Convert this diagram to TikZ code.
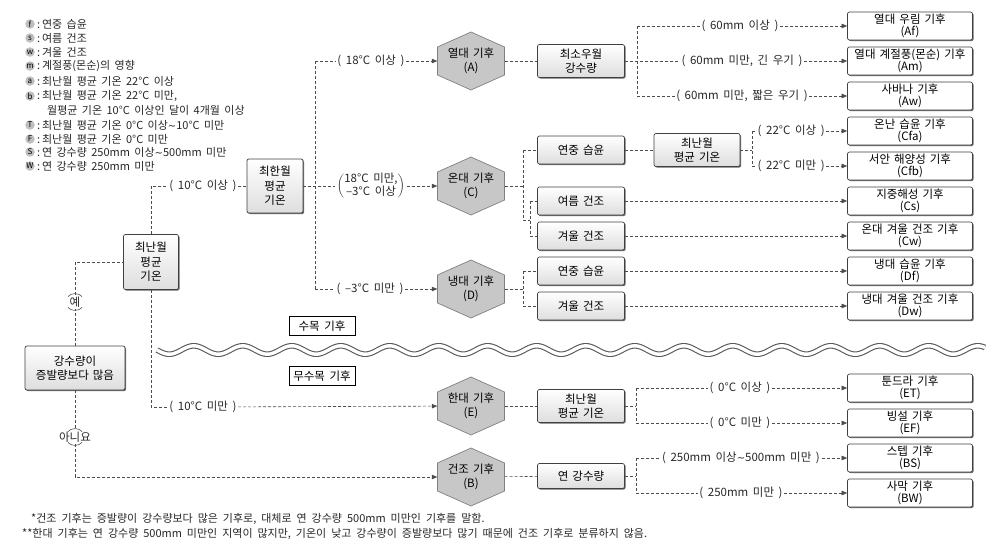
\documentclass[tikz,border=0pt]{standalone}
\usepackage{fontspec}
\setmainfont{Noto Sans CJK KR}
\newfontfamily\djv{DejaVu Sans}
\usetikzlibrary{arrows.meta,shadows,backgrounds,calc}
\newcommand{\myboxf}{\fontsize{11.5}{14.5}\selectfont\spaceskip=0.35em\relax}
\newcommand{\myresf}{\fontsize{11.5}{12.5}\selectfont\spaceskip=0.35em\relax}
\newcommand{\mylabf}{\fontsize{11.5}{13}\selectfont\spaceskip=0.4em\relax}
\newcommand{\mylegf}{\fontsize{11}{12}\selectfont\spaceskip=0.4em\relax}
\newcommand{\mybadgef}{\fontsize{8}{8}\selectfont}
\newcommand{\mynotef}{\fontsize{11}{12}\selectfont\spaceskip=0.45em\relax}
\newcommand{\tld}{{\djv\fontsize{10}{10}\selectfont ∼}}
\newcommand{\lgitem}[4]{\node[badge] (bd#1) at (30,#3) {#2}; \node[lg] (lt#1) at (37,#3) {:\,#4};}
\newcommand{\hexshape}[1]{\filldraw[hexfill] ([shift={(-33.5,-14)}]#1.center) -- ([shift={(0,-29)}]#1.center) -- ([shift={(33.5,-14)}]#1.center) -- ([shift={(33.5,14)}]#1.center) -- ([shift={(0,29)}]#1.center) -- ([shift={(-33.5,14)}]#1.center) -- cycle;}
\tikzset{
 dl/.style={draw=black!70, line width=0.6pt, dash pattern=on 3pt off 2pt},
 arr/.style={-{Triangle[length=5.5pt,width=4.5pt]}},
 myshadow/.style={drop shadow={shadow xshift=1.1pt, shadow yshift=-1.1pt, fill=black!60, opacity=1}},
 gbox/.style={draw=black!75, line width=0.7pt, rounded corners=2pt, top color=white, bottom color=black!13, myshadow, minimum width=87pt, align=center, inner sep=1pt, font=\myboxf},
 rbox/.style={draw=black!75, line width=0.7pt, rounded corners=2pt, fill=white, myshadow, minimum width=125pt, minimum height=28pt, align=center, inner sep=0pt, font=\myresf},
 hexn/.style={minimum width=67pt, minimum height=58pt, inner sep=0pt, align=center, font=\myboxf},
 hexfill/.style={fill=black!22, draw=black!50, line width=0.7pt},
 lab/.style={inner sep=1.5pt, font=\mylabf, text=black!85},
 badge/.style={circle, fill=black!25, inner sep=0pt, minimum size=9.5pt, font=\mybadgef},
 lg/.style={anchor=west, inner sep=0pt, font=\mylegf, text=black!85},
 tagbox/.style={draw=black, line width=0.8pt, fill=white, minimum width=66pt, minimum height=19pt, inner sep=0pt, font=\mylabf, drop shadow={shadow xshift=0.8pt, shadow yshift=-0.8pt, fill=black!70, opacity=1}},
 arcm/.style={draw=black!70, line width=0.6pt}
}
\begin{document}
\begin{tikzpicture}[x=1pt,y=-1pt]
\useasboundingbox (0,0) rectangle (1007,555);

% legend
\lgitem{f}{f}{24}{연중 습윤}
\lgitem{s}{s}{38}{여름 건조}
\lgitem{w}{w}{52}{겨울 건조}
\lgitem{m}{m}{66}{계절풍(몬순)의 영향}
\lgitem{a}{a}{81}{최난월 평균 기온 22°C 이상}
\lgitem{b}{b}{96}{최난월 평균 기온 22°C 미만,}
\node[lg] (ltb2) at (47,110) {월평균 기온 10°C 이상인 달이 4개월 이상};
\lgitem{T}{T}{125}{최난월 평균 기온 0°C 이상\tld 10°C 미만}
\lgitem{F}{F}{139}{최난월 평균 기온 0°C 미만}
\lgitem{S}{S}{152}{연 강수량 250mm 이상\tld 500mm 미만}
\lgitem{W}{W}{166}{연 강수량 250mm 미만}

% wave
\draw[black!65, line width=5.6pt] plot[domain=157:985, samples=500] (\x, {350+4.2*sin((\x-157)/49*360)});
\draw[white, line width=3.4pt] plot[domain=157:985, samples=500] (\x, {350+4.2*sin((\x-157)/49*360)});
\node[tagbox] (tree) at (322,326) {수목 기후};
\node[tagbox] (notree) at (322,376) {무수목 기후};

% left nodes
\node[gbox, minimum width=100pt, minimum height=44pt] (P) at (75,368) {강수량이\\증발량보다 많음};
\node[gbox, minimum width=55pt, minimum height=55pt] (L) at (151,262) {최난월\\평균\\기온};
\node[gbox, minimum width=56pt, minimum height=54pt] (H) at (275,186) {최한월\\평균\\기온};
\node[lab, inner sep=2pt] (yes) at (75,302) {예};
\node[lab, inner sep=2pt] (no) at (75,437) {아니요};
\draw[arcm] ($(yes.north)+(-7,2)$) .. controls ($(yes.north)+(-4,-2)$) and ($(yes.north)+(4,-2)$) .. ($(yes.north)+(7,2)$);
\draw[arcm] ($(yes.south)+(-7,-2)$) .. controls ($(yes.south)+(-4,2)$) and ($(yes.south)+(4,2)$) .. ($(yes.south)+(7,-2)$);
\draw[arcm] ($(no.north)+(-7,2)$) .. controls ($(no.north)+(-4,-2)$) and ($(no.north)+(4,-2)$) .. ($(no.north)+(7,2)$);
\draw[arcm] ($(no.south)+(-7,-2)$) .. controls ($(no.south)+(-4,2)$) and ($(no.south)+(4,2)$) .. ($(no.south)+(7,-2)$);
\node[lab] (l10a) at (203,186) {( 10°C 이상 )};
\node[lab] (l10b) at (203,407) {( 10°C 미만 )};

% hexagons
\node[hexn] (A) at (471,61) {열대 기후\\(A)};
\node[hexn] (C) at (471,186) {온대 기후\\(C)};
\node[hexn] (D) at (471,289) {냉대 기후\\(D)};
\node[hexn] (E) at (471,406) {한대 기후\\(E)};
\node[hexn] (B) at (471,477) {건조 기후\\(B)};
\begin{pgfonlayer}{background}
\hexshape{A}\hexshape{C}\hexshape{D}\hexshape{E}\hexshape{B}
\end{pgfonlayer}

\node[lab] (l18a) at (371,61) {( 18°C 이상 )};
\node[lab] (l18b) at (371,186) {$\left(\vcenter{\hbox{\def\arraystretch{0.9}\begin{tabular}{@{}c@{}}18°C 미만,\\–3°C 이상\end{tabular}}}\right)$};
\node[lab] (lm3) at (370,289) {( –3°C 미만 )};

% middle column
\node[gbox, minimum height=33pt] (M1) at (581,61) {최소우월\\강수량};
\node[gbox, minimum height=28pt] (Cf) at (581,150) {연중 습윤};
\node[gbox, minimum height=28pt] (Cs1) at (581,201) {여름 건조};
\node[gbox, minimum height=28pt] (Cw1) at (581,236) {겨울 건조};
\node[gbox, minimum height=28pt] (Df1) at (581,271) {연중 습윤};
\node[gbox, minimum height=28pt] (Dw1) at (581,306) {겨울 건조};
\node[gbox, minimum height=33pt] (ET1) at (581,406) {최난월\\평균 기온};
\node[gbox, minimum height=25pt] (BS1) at (581,476) {연 강수량};
\node[gbox, minimum width=86pt, minimum height=33pt] (CT) at (697,150) {최난월\\평균 기온};

% results
\node[rbox] (Af) at (910,26) {열대 우림 기후\\(Af)};
\node[rbox] (Am) at (910,61) {열대 계절풍(몬순) 기후\\(Am)};
\node[rbox] (Aw) at (910,96) {사바나 기후\\(Aw)};
\node[rbox] (Cfa) at (910,131) {온난 습윤 기후\\(Cfa)};
\node[rbox] (Cfb) at (910,166) {서안 해양성 기후\\(Cfb)};
\node[rbox] (Cs) at (910,201) {지중해성 기후\\(Cs)};
\node[rbox] (Cw) at (910,236) {온대 겨울 건조 기후\\(Cw)};
\node[rbox] (Df) at (910,271) {냉대 습윤 기후\\(Df)};
\node[rbox] (Dw) at (910,306) {냉대 겨울 건조 기후\\(Dw)};
\node[rbox] (ET) at (910,388) {툰드라 기후\\(ET)};
\node[rbox] (EF) at (910,423) {빙설 기후\\(EF)};
\node[rbox] (BS) at (910,458) {스텝 기후\\(BS)};
\node[rbox] (BW) at (910,493) {사막 기후\\(BW)};

% labels right
\node[lab] (lAf) at (740,26) {( 60mm 이상 )};
\node[lab] (lAm) at (742,61) {( 60mm 미만, 긴 우기 )};
\node[lab] (lAw) at (742,96) {( 60mm 미만, 짧은 우기 )};
\node[lab, anchor=west] (lCfa) at (756,131) {( 22°C 이상 )};
\node[lab, anchor=west] (lCfb) at (756,166) {( 22°C 미만 )};
\node[lab] (lET) at (740,388) {( 0°C 이상 )};
\node[lab] (lEF) at (740,423) {( 0°C 미만 )};
\node[lab] (lBS) at (741,458) {( 250mm 이상\tld 500mm 미만 )};
\node[lab] (lBW) at (741,493) {( 250mm 미만 )};

% connectors left
\draw[dl] (P) -- (yes);
\draw[dl] (yes) |- (L);
\draw[dl] (P) -- (no);
\draw[dl,arr] (no) |- (B);
\draw[dl] (L) |- (l10a);
\draw[dl] (l10a) -- (H);
\draw[dl] (L) |- (l10b);
\draw[dl,arr] (l10b) -- (E);

% trunk after H
\coordinate (k1) at (315,61);
\coordinate (k3) at (315,289);
\draw[dl] (k1) -- (k3);
\draw[dl] (k1) -- (l18a);
\draw[dl,arr] (l18a) -- (A);
\draw[dl] (H) -- (l18b);
\draw[dl,arr] (l18b) -- (C);
\draw[dl] (k3) -- (lm3);
\draw[dl,arr] (lm3) -- (D);

% A branch
\draw[dl] (A) -- (M1);
\coordinate (ka1) at (637,26);
\coordinate (ka3) at (637,96);
\draw[dl] (ka1) -- (ka3);
\draw[dl] (ka1) -- (lAf);
\draw[dl,arr] (lAf) -- (Af);
\draw[dl] (M1) -- (lAm);
\draw[dl,arr] (lAm) -- (Am);
\draw[dl] (ka3) -- (lAw);
\draw[dl,arr] (lAw) -- (Aw);

% C branch
\coordinate (c0) at (523,186);
\coordinate (c1) at (523,150);
\coordinate (c2) at (523,220);
\coordinate (c3) at (530,201);
\coordinate (c4) at (530,236);
\draw[dl] (C) -- (c0);
\draw[dl] (c1) -- (c2) -- (c2 -| c3);
\draw[dl] (c3) -- (c4);
\draw[dl] (c1) -- (Cf);
\draw[dl] (c3) -- (Cs1);
\draw[dl] (c4) -- (Cw1);
\draw[dl] (Cf) -- (CT);
\coordinate (ct0) at (752,150);
\coordinate (ct1) at (752,131);
\coordinate (ct2) at (752,166);
\draw[dl] (CT) -- (ct0);
\draw[dl] (ct1) -- (ct2);
\draw[dl] (ct1) -- (lCfa);
\draw[dl,arr] (lCfa) -- (Cfa);
\draw[dl] (ct2) -- (lCfb);
\draw[dl,arr] (lCfb) -- (Cfb);
\draw[dl,arr] (Cs1) -- (Cs);
\draw[dl,arr] (Cw1) -- (Cw);

% D branch
\coordinate (d0) at (523,289);
\coordinate (d1) at (523,271);
\coordinate (d2) at (523,306);
\draw[dl] (D) -- (d0);
\draw[dl] (d1) -- (d2);
\draw[dl] (d1) -- (Df1);
\draw[dl] (d2) -- (Dw1);
\draw[dl,arr] (Df1) -- (Df);
\draw[dl,arr] (Dw1) -- (Dw);

% E branch
\draw[dl] (E) -- (ET1);
\coordinate (e0) at (636,406);
\coordinate (e1) at (636,388);
\coordinate (e2) at (636,423);
\draw[dl] (ET1) -- (e0);
\draw[dl] (e1) -- (e2);
\draw[dl] (e1) -- (lET);
\draw[dl,arr] (lET) -- (ET);
\draw[dl] (e2) -- (lEF);
\draw[dl,arr] (lEF) -- (EF);

% B branch
\draw[dl] (B) -- (BS1);
\coordinate (b0) at (636,476);
\coordinate (b1) at (636,458);
\coordinate (b2) at (636,493);
\draw[dl] (BS1) -- (b0);
\draw[dl] (b1) -- (b2);
\draw[dl] (b1) -- (lBS);
\draw[dl,arr] (lBS) -- (BS);
\draw[dl] (b2) -- (lBW);
\draw[dl,arr] (lBW) -- (BW);

% footnotes
\node[lg, font=\mynotef] (fn1) at (31,519) {*건조 기후는 증발량이 강수량보다 많은 기후로, 대체로 연 강수량 500mm 미만인 기후를 말함.};
\node[lg, font=\mynotef] (fn2) at (22,534) {**한대 기후는 연 강수량 500mm 미만인 지역이 많지만, 기온이 낮고 강수량이 증발량보다 많기 때문에 건조 기후로 분류하지 않음.};
\end{tikzpicture}
\end{document}
